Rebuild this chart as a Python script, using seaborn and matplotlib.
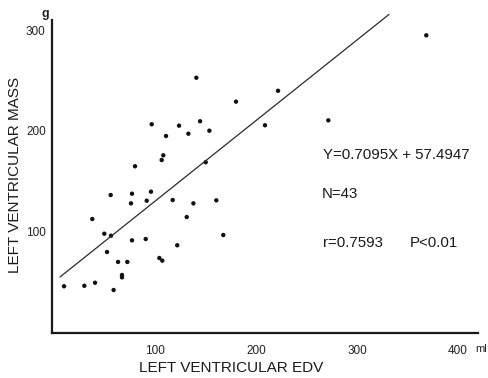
import matplotlib
matplotlib.use("Agg")
import matplotlib.pyplot as plt
import seaborn as sns
import pandas as pd

# ---- data ----
edv = [9.9, 30.0, 40.6, 59.0, 67.3, 67.3, 63.4, 72.6, 52.5, 49.8,
       56.4, 37.9, 77.2, 90.8, 104.3, 107.2, 56.1, 77.2, 76.2, 96.0,
       91.8, 117.5, 138.0, 160.7, 131.4, 167.6, 122.0, 96.7, 110.9, 108.2,
       106.6, 80.2, 140.9, 180.2, 221.8, 123.8, 144.6, 133.0, 153.8, 150.2,
       208.9, 368.6, 271.6]
mass = [45.5, 46.0, 49.0, 41.8, 56.7, 54.4, 69.7, 69.7, 79.6, 97.8,
        95.8, 112.4, 91.2, 92.5, 73.6, 71.0, 136.3, 137.6, 128.0, 139.6,
        130.6, 131.3, 128.0, 131.0, 114.4, 96.5, 86.3, 206.7, 195.0, 175.8,
        171.1, 164.9, 253.0, 229.2, 240.0, 205.3, 209.7, 197.3, 200.3, 168.9,
        205.7, 295.2, 210.6]
line_x = [5.9, 331.7]
line_y = [54.7, 316.0]
x_ticks = [100, 200, 300, 400]
y_ticks = [100, 200, 300]
equation = "Y=0.7095X + 57.4947"
n_text = "N=43"
r_text = "r=0.7593"
p_text = "P<0.01"

sns.set_style("white")
plt.rcParams['font.family'] = ['Liberation Sans', 'DejaVu Sans']
fam = ['Liberation Sans', 'DejaVu Sans']

W, H = 488, 378
fig = plt.figure(figsize=(W / 100, H / 100), dpi=100)
ax = fig.add_axes([52 / W, (H - 333) / H, 426.2 / W, 320.6 / H])

df = pd.DataFrame({"edv": edv, "mass": mass})
sns.scatterplot(data=df, x="edv", y="mass", ax=ax, color="#111111", s=10,
                edgecolor="none", linewidth=0)
sns.lineplot(x=line_x, y=line_y, ax=ax, color="#2a2a2a", linewidth=0.9)

ax.set_xlim(-2, 420)
ax.set_ylim(-1, 318)
ax.set_xticks(x_ticks)
ax.set_yticks(y_ticks)
for s in ["top", "right"]:
    ax.spines[s].set_visible(False)
for s in ["left", "bottom"]:
    ax.spines[s].set_color("#1a1a1a")
    ax.spines[s].set_linewidth(1.6)
ax.spines["left"].set_bounds(-1, 310)
ax.tick_params(axis="both", length=2.5, width=0.8, color="#333333",
               labelsize=8.5, labelcolor="#222222")
ax.tick_params(axis="x", pad=6)
ax.tick_params(axis="y", pad=2)

ax.set_xlabel("LEFT VENTRICULAR EDV", family=fam, fontsize=11,
              color="#1a1a1a", va="center")
ax.xaxis.set_label_coords(0.42, -0.109)
ax.set_ylabel("LEFT VENTRICULAR MASS", family=fam, fontsize=11,
              color="#1a1a1a", va="center")
ax.yaxis.set_label_coords(-0.087, 0.493)

def ftext(px, py, s, **kw):
    fig.text(px / W, 1 - py / H, s, **kw)

ftext(45, 14, "g", fontsize=9, ha="center", va="center", color="#222222",
      fontweight="bold")
ftext(475, 349, "ml", fontsize=8, ha="left", va="center", color="#222222")
ftext(323, 155, equation, family=fam, fontsize=10.8, ha="left", va="center",
      color="#1a1a1a")
ftext(322, 194, n_text, family=fam, fontsize=10.8, ha="left", va="center",
      color="#1a1a1a")
ftext(323, 243, r_text, family=fam, fontsize=10.8, ha="left", va="center",
      color="#1a1a1a")
ftext(410, 243, p_text, family=fam, fontsize=10.8, ha="left", va="center",
      color="#1a1a1a")

fig.savefig("out.png", dpi=100, facecolor="white")
